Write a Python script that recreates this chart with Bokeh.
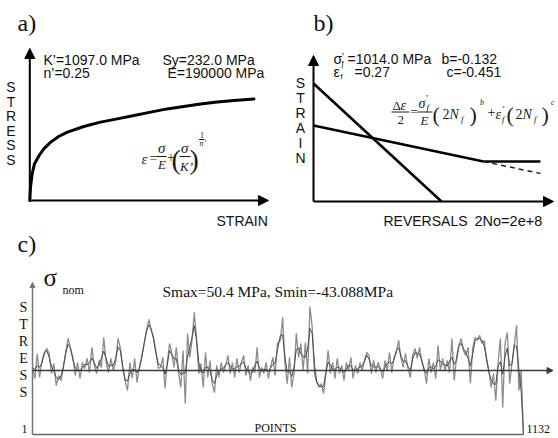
import numpy as np
from bokeh.plotting import figure
from bokeh.models import Range1d, Label, Arrow, NormalHead
from bokeh.embed import file_html
from bokeh.resources import INLINE

# ---------------- data ----------------
# a) cyclic stress-strain curve: strain [-], stress [MPa]
a_strain = [0, 0.00015, 0.0005, 0.001, 0.002, 0.003, 0.0045, 0.0062, 0.0081, 0.0116,
            0.0152, 0.0188, 0.0224, 0.026, 0.0295, 0.0331, 0.0367, 0.0403, 0.0439, 0.0482]
a_stress = [0, 66, 133, 183, 225, 258, 292, 320, 342, 370,
            392, 408, 425, 442, 458, 470, 483, 492, 500, 508]

# b) strain-life lines: log10(2N) vs log10(strain amplitude)
b_origin = [0.0, -3.388]
b_plastic_x = [0.0, 6.25]
b_plastic_y = [-0.569, -3.388]
b_elastic_x = [0.0, 8.30]
b_elastic_y = [-1.572, -2.432]
b_endur_x = [8.30, 11.08]
b_endur_y = [-2.432, -2.432]
b_ext_x = [8.30, 11.08]
b_ext_y = [-2.432, -2.719]

# c) nominal stress history [MPa] over 1132 points, read in four stretches
c_seg_start = [1, 296, 572, 866]
c_seg_end = [291, 565, 860, 1132]
c_seg1 = [2.4, -6.3, 13.4, -5.5, 7.9, 14.2, 17.4, 13.4, -2.4, 5.5, -11.9, -4.0, -7.9, 2.4,
          14.2, 25.3, 17.4, 10.3, -4.0, 6.3, -6.3, 6.3, 1.6, 9.5, -1.6, 18.2, 4.0, -2.4,
          7.9, 2.4, 26.1, 6.3, -1.6, 9.5, 0.0, 6.3, 25.3, 17.4, 1.6, -7.9, -15.8, 6.3,
          -6.3, 9.5, -9.5, 2.4, 10.3, 21.3, 31.6, 40.3, 31.6, 26.1, 13.4, 1.6]
c_seg2 = [2.4, 10.3, -14.2, 6.3, 21.3, 13.4, 2.4, 18.2, -1.6, -13.4, 15.8, -26.1, 29.2,
          10.3, 23.7, 45.8, 26.1, -2.4, 5.5, -13.4, 14.2, -5.5, 7.9, -10.3, -17.4, 4.0,
          -5.5, 6.3, -1.6, 4.0, 11.9, -2.4, 6.3, -5.5, 9.5, -1.6, 6.3, 11.9, -4.0, 4.0,
          -7.9, 2.4, -1.6, 18.2, -5.5, 2.4, -2.4, 6.3, -6.3, 2.4, 10.3, -4.0, 21.3]
c_seg3 = [23.7, 41.9, 5.5, -10.3, 10.3, -13.4, -2.4, 29.2, 10.3, 21.3, 0.0, 22.1, -2.4,
          50.4, 34.0, -2.4, -9.5, -13.4, -10.3, -18.2, -2.4, 15.8, -2.4, 6.3, -6.3, 9.5,
          -2.4, 4.0, -7.9, 6.3, 0.0, 10.3, -6.3, 4.0, -2.4, 6.3, 0.0, 7.9, 14.2, 11.9,
          -2.4, 7.9, -1.6, 6.3, 1.6, -6.3, 7.9, 0.0, 14.2, -1.6, 10.3, 14.2, 23.7, 10.3,
          2.4, 13.4]
c_seg4 = [1.6, -5.5, 11.9, 17.4, 9.5, 18.2, 6.3, 1.6, -10.3, 9.5, -1.6, 6.3, -6.3, 19.8,
          0.0, 9.5, 0.0, 7.9, -1.6, 25.3, -7.9, 10.3, 19.8, 25.3, 15.8, 11.9, 18.2, -10.3,
          17.4, 26.1, 23.7, 27.7, 21.3, 23.7, 7.9, 0.0, -13.4, -2.4, -23.7, 6.3, 25.3,
          -29.2, 21.3, 30.0, -10.3, 5.5, 19.8, 35.6, -15.8, 0.0, -50.4]
c_floor = -50.4
c_npoints = 1132

# ---------------- figure ----------------
SANS = "Liberation Sans"
SERIF = "Liberation Serif"

p = figure(width=558, height=438, x_range=Range1d(0, 558), y_range=Range1d(438, 0),
           x_axis_type=None, y_axis_type=None, toolbar_location=None,
           output_backend="svg", min_border=0, outline_line_color=None,
           background_fill_color="white", border_fill_color="white")
p.grid.visible = False

p.extra_x_ranges = {"a": Range1d(-0.0063, 0.11367),
                    "b": Range1d(-15.284, 11.963),
                    "c": Range1d(-72.71, 1212.6)}
p.extra_y_ranges = {"a": Range1d(-1190, 1000),
                    "b": Range1d(-9.050, 1.414),
                    "c": Range1d(-53.55, 291.375)}


def txt(x, y, s, size, font=SANS, style="normal", align="left", color="#111111"):
    # y is the wanted baseline; the renderer draws the glyphs a little lower
    p.add_layout(Label(x=x, y=y - 0.32 * size, text=s, text_font_size=f"{size}px",
                       text_font=font, text_font_style=style, text_align=align,
                       text_baseline="alphabetic", text_color=color))


def bar(x0, x1, y, color="#1a1a1a"):
    p.segment(x0=[x0], y0=[y], x1=[x1], y1=[y], line_color=color, line_width=1)


def arrow(r, x0, y0, x1, y1, width, size, color="black"):
    p.add_layout(Arrow(end=NormalHead(size=size, fill_color=color, line_color=color),
                       x_start=x0, y_start=y0, x_end=x1, y_end=y1,
                       line_width=width, line_color=color,
                       x_range_name=r, y_range_name=r))


# ---------------- panel a ----------------
txt(17, 30, "a)", 24, SERIF)
arrow("a", 0, 0, 0, 760, 2, 10)
arrow("a", 0, 0, 0.0513, 0, 2, 10)
p.line(a_strain, a_stress, x_range_name="a", y_range_name="a",
       line_color="black", line_width=3, line_join="round", line_cap="round")

txt(43, 64, "K’=1097.0 MPa", 14)
txt(162, 64, "Sy=232.0 MPa", 14)
txt(43, 77, "n’=0.25", 14)
txt(167, 77, "E=190000 MPa", 14)
for i, ch in enumerate("STRESS"):
    txt(10.5, 91 + i * 14.6, ch, 14, align="center")
txt(216, 225, "STRAIN", 14)

FC = "#1a1a1a"
txt(141, 163, "ε", 15, SERIF, "italic", color=FC)
txt(149, 162, "=", 14, SERIF, color=FC)
txt(157.5, 152, "σ", 15, SERIF, "italic", color=FC)
bar(156, 166, 156)
txt(157.5, 168, "E", 13, SERIF, "italic", color=FC)
txt(166.5, 161, "+", 14, SERIF, color=FC)
txt(171, 168, "(", 28, SERIF, color=FC)
txt(180.5, 152, "σ", 15, SERIF, "italic", color=FC)
bar(179, 190, 156)
txt(179.5, 170, "K’", 13, SERIF, "italic", color=FC)
txt(189, 168, ")", 28, SERIF, color=FC)
txt(199.5, 137, "1", 8, SERIF, color=FC)
bar(198.5, 204, 139)
txt(199, 145.5, "n’", 8, SERIF, "italic", color=FC)

# ---------------- panel b ----------------
txt(313, 30, "b)", 24, SERIF)
arrow("b", b_origin[0], b_origin[1], 0, 0.100, 2, 10)
arrow("b", b_origin[0], b_origin[1], 11.72, b_origin[1], 2, 10)
p.line(b_plastic_x, b_plastic_y, x_range_name="b", y_range_name="b",
       line_color="black", line_width=2.5)
p.line(b_elastic_x, b_elastic_y, x_range_name="b", y_range_name="b",
       line_color="black", line_width=2.5)
p.line(b_endur_x, b_endur_y, x_range_name="b", y_range_name="b",
       line_color="black", line_width=2.5)
p.line(b_ext_x, b_ext_y, x_range_name="b", y_range_name="b",
       line_color="#222222", line_width=1.5, line_dash="5 4")

txt(333, 63, "σ", 14)
txt(341, 66, "f", 8)
txt(341.5, 60, "’", 10)
txt(347, 63, "=1014.0 MPa", 14)
txt(441, 63, "b=-0.132", 14)
txt(333, 76, "ε", 14)
txt(340, 79, "f", 8)
txt(340.5, 73, "’", 10)
txt(354, 76, "=0.27", 14)
txt(446, 76, "c=-0.451", 14)
for i, ch in enumerate("STRAIN"):
    txt(300, 86.5 + i * 15, ch, 14, align="center")
txt(383, 225, "REVERSALS", 14)
txt(474, 225, "2No=2e+8", 14.5)

txt(392, 109, "Δ", 13, SERIF, color=FC)
txt(400, 109, "ε", 14, SERIF, "italic", color=FC)
bar(391, 409, 111.5)
txt(397, 124, "2", 13, SERIF, color=FC)
txt(410, 115, "=", 13, SERIF, color=FC)
txt(418, 107, "σ", 14, SERIF, "italic", color=FC)
txt(425, 100, "’", 9, SERIF, color=FC)
txt(426, 109.5, "f", 9, SERIF, "italic", color=FC)
bar(417, 432, 111.5)
txt(420, 124, "E", 13, SERIF, "italic", color=FC)
txt(432, 121, "(", 22, SERIF, color=FC)
txt(442, 118, "2", 14, SERIF, color=FC)
txt(449, 118, "N", 14, SERIF, "italic", color=FC)
txt(460.5, 121, "f", 9, SERIF, "italic", color=FC)
txt(469, 121, ")", 22, SERIF, color=FC)
txt(479.5, 105, "b", 8, SERIF, "italic", color=FC)
txt(487, 116, "+", 14, SERIF, color=FC)
txt(495, 118, "ε", 14, SERIF, "italic", color=FC)
txt(501.5, 111, "’", 9, SERIF, color=FC)
txt(501.5, 121, "f", 9, SERIF, "italic", color=FC)
txt(506, 121, "(", 22, SERIF, color=FC)
txt(515, 118, "2", 14, SERIF, color=FC)
txt(522, 118, "N", 14, SERIF, "italic", color=FC)
txt(533.5, 121, "f", 9, SERIF, "italic", color=FC)
txt(541, 121, ")", 22, SERIF, color=FC)
txt(550.5, 105, "c", 8, SERIF, "italic", color=FC)

# ---------------- panel c ----------------
txt(17, 251, "c)", 24, SERIF)
cx, cy = [], []
for s, e, vals in zip(c_seg_start, c_seg_end, [c_seg1, c_seg2, c_seg3, c_seg4]):
    cx.extend(np.linspace(s, e, len(vals)).tolist())
    cy.extend(vals)
p.line(cx, cy, x_range_name="c", y_range_name="c", line_color="#8c8c8c", line_width=1.3)
cy_core = np.convolve(cy, [0.25, 0.5, 0.25], mode="same")
cy_core[0], cy_core[-1] = cy[0], cy[-1]
p.line(cx, cy_core.tolist(), x_range_name="c", y_range_name="c",
       line_color="#4a4a4a", line_width=1)

arrow("c", 1, c_floor, 1, 69.3, 1.5, 5, "#777777")
p.line([1, c_npoints], [c_floor, c_floor], x_range_name="c", y_range_name="c",
       line_color="#666666", line_width=1.5)
arrow("c", 1, 0, 1200.0, 0, 1.3, 6, "#3a3a3a")

txt(43, 285, "σ", 25, SERIF)
txt(62, 293, "nom", 12, SERIF)
txt(162, 296, "Smax=50.4 MPa, Smin=-43.088MPa", 15.5, SERIF)
for i, ch in enumerate("STRESS"):
    txt(23, 311.5 + i * 17, ch, 14, SERIF, align="center")
txt(254, 431, "POINTS", 12, SERIF)
txt(21, 432, "1", 12, SERIF)
txt(526, 432, "1132", 12, SERIF)

open("out.html", "w").write(file_html(p, INLINE))
